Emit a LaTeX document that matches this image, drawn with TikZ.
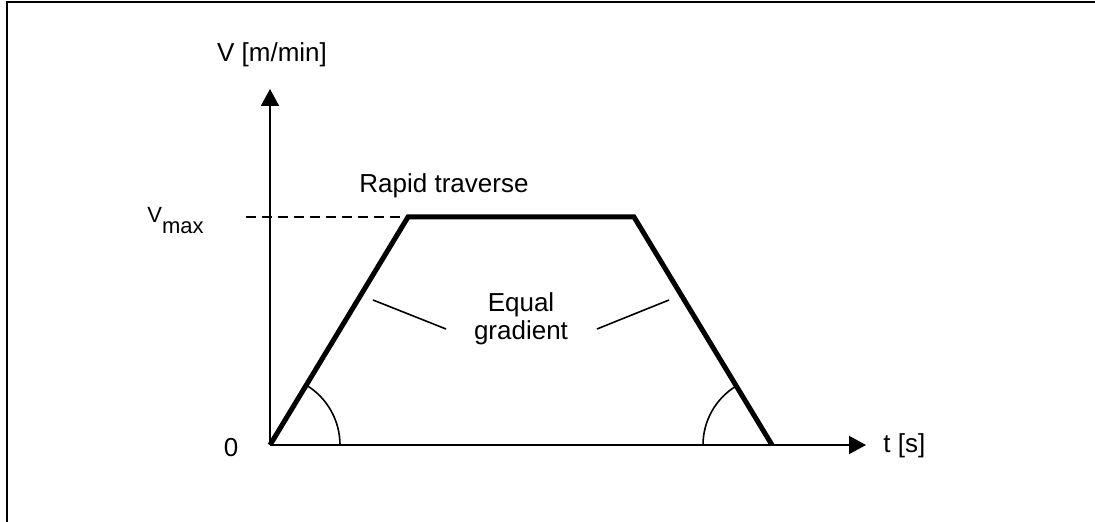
\documentclass[tikz,border=0pt]{standalone}
\usepackage{fontspec}
\setmainfont{Liberation Sans}
\usepackage{tikz}
\usetikzlibrary{arrows.meta,positioning,calc}

\begin{document}
\begin{tikzpicture}[
  x=0.5pt, y=-0.5pt,
  font=\fontsize{13}{14}\selectfont,
  lbl/.style={inner sep=0pt, align=center},
  axis/.style={-{Triangle[length=8.5pt, width=9pt]}, line width=1pt},
  ramp/.style={line width=2.5pt, line join=miter},
  angmark/.style={line width=0.8pt},
  leader/.style={line width=0.8pt},
  frame/.style={line width=1.3pt}
]
\useasboundingbox (0,0) rectangle (1095,522);
\draw[frame] (7,522) |- (1095,2);

\coordinate (origin) at (270,445);
\coordinate (vtip) at (270,89);
\coordinate (ttip) at (866,445);
\coordinate (accend) at (408,217);
\coordinate (decstart) at (634,217);
\coordinate (stop) at (772,445);
\coordinate (dashstart) at (246,217);

\draw[axis] (origin) -- (vtip);
\draw[axis] (origin) -- (ttip);
\draw[dashed, dash pattern=on 5pt off 3pt, line width=0.7pt] (dashstart) -- (accend);
\draw[ramp] (origin) -- (accend) -- (decstart) -- (stop);

\draw[angmark] ($(origin)+(70,0)$) arc[start angle=0, end angle=58.8, radius=35pt];
\draw[angmark] ($(stop)+(-69,0)$) arc[start angle=180, end angle=121.2, radius=34.5pt];

\node[lbl, anchor=base] (vaxis) at (272,62) {V [m/min]};
\node[lbl, anchor=base west] (taxis) at (883,452) {t [s]};
\node[lbl, anchor=base] (zero) at (231,457) {0};
\node[lbl, anchor=base west, font=\fontsize{11}{13}\selectfont] (vmax) at (147,223)
  {V\raisebox{-0.9ex}{max}};
\node[lbl, anchor=base] (rapid) at (444,193) {Rapid traverse};
\node[lbl] (gradient) at (521,319) {Equal\\gradient};

\coordinate (leftA) at (373,300);
\coordinate (leftB) at (446,329);
\coordinate (rightA) at (597,329);
\coordinate (rightB) at (669,300);
\draw[leader] (leftA) -- (leftB);
\draw[leader] (rightA) -- (rightB);
\end{tikzpicture}
\end{document}
